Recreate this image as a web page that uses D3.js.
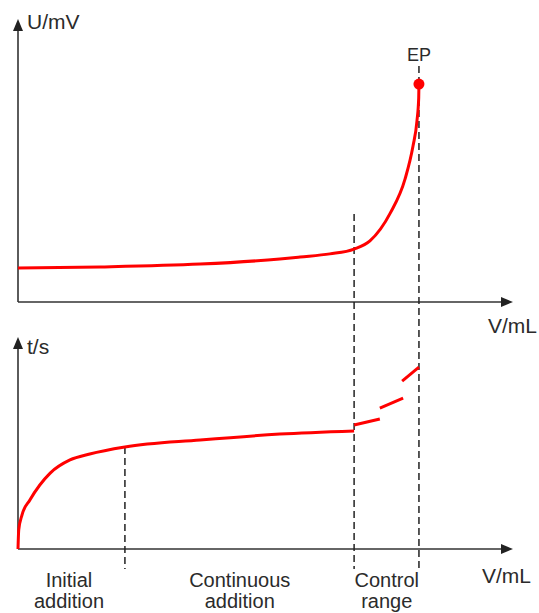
<!DOCTYPE html>
<html lang="en">
<head>
<meta charset="utf-8">
<script src="https://d3js.org/d3.v7.min.js"></script>
<style>
body { margin: 0; background: #fff; }
text { font-family: "Liberation Sans", Arial, sans-serif; fill: #2b2b2b; }
</style>
</head>
<body>
<svg width="539" height="613"></svg>
<script>
// --- data (V in arbitrary units 0..100, U and t in 0..100) ---
var potV = [0, 16.6, 36.8, 52.9, 57, 63, 67.9, 71.1, 75.2, 78.2, 79.8, 80.6, 80.95, 81];
var potU = [12.0, 12.4, 13.4, 15.2, 15.9, 17.0, 18.7, 21.6, 31.4, 43.5, 55.1, 64.0, 72.1, 77.0];

var timeV = [0, 0.15, 0.8, 2.4, 6.5, 10.5, 14.5, 21.6, 36.8, 52.9, 67.9];
var timeT = [0, 9.0, 16.0, 23.1, 35.8, 42.0, 44.8, 48.1, 51.4, 54.2, 55.7];

// control range increments (separate dashes)
var ctrlV0 = [67.9, 73.1, 77.6];
var ctrlT0 = [58.5, 66.5, 79.2];
var ctrlV1 = [73.1, 77.8, 81.0];
var ctrlT1 = [61.3, 71.2, 85.8];

var markV = [21.6, 67.9, 81.0];   // dashed region boundaries
var epV = 81.0, epU = 77.0;

var regionLabels = [["Initial", "addition"], ["Continuous", "addition"], ["Control", "range"]];
var regionCenters = [10.3, 44.8, 74.5];

var svg = d3.select("svg");
var red = "#ff0000", ink = "#333";

var x = d3.scaleLinear().domain([0, 100]).range([18, 513]);
var yU = d3.scaleLinear().domain([0, 100]).range([302, 19]);
var yT = d3.scaleLinear().domain([0, 100]).range([549, 337]);

// arrow axes
function arrowAxis(x0, y0, x1, y1) {
  svg.append("line").attr("x1", x0).attr("y1", y0).attr("x2", x1).attr("y2", y1)
    .attr("stroke", ink).attr("stroke-width", 1.6);
}
function head(px, py, dir) {
  var pts = dir === "up"
    ? [[px, py], [px - 5, py + 12], [px + 5, py + 12]]
    : [[px, py], [px - 12, py - 5], [px - 12, py + 5]];
  svg.append("polygon").attr("points", pts.join(" ")).attr("fill", "#222");
}

// top panel axes
arrowAxis(x(0), yU(0), x(0), yU(100) + 6);
arrowAxis(x(0), yU(0), 506, yU(0));
head(x(0), yU(100), "up");
head(513, yU(0), "right");
// bottom panel axes
arrowAxis(x(0), yT(0), x(0), yT(100) + 6);
arrowAxis(x(0), yT(0), 506, yT(0));
head(x(0), yT(100), "up");
head(513, yT(0), "right");

// dashed boundary lines
var dashTop = [447, 214, 66];
markV.forEach(function(v, i) {
  svg.append("line")
    .attr("x1", x(v)).attr("x2", x(v))
    .attr("y1", dashTop[i]).attr("y2", 569)
    .attr("stroke", "#222").attr("stroke-width", 1.5)
    .attr("stroke-dasharray", "7,4");
});

// potential curve
var potLine = d3.line().x(function(d) { return x(d[0]); }).y(function(d) { return yU(d[1]); })
  .curve(d3.curveMonotoneX);
svg.append("path").datum(d3.zip(potV, potU)).attr("d", potLine)
  .attr("fill", "none").attr("stroke", red).attr("stroke-width", 3);
svg.append("circle").attr("cx", x(epV)).attr("cy", yU(epU)).attr("r", 5.5).attr("fill", red);

// time curve
var timeLine = d3.line().x(function(d) { return x(d[0]); }).y(function(d) { return yT(d[1]); })
  .curve(d3.curveMonotoneX);
svg.append("path").datum(d3.zip(timeV, timeT)).attr("d", timeLine)
  .attr("fill", "none").attr("stroke", red).attr("stroke-width", 3);

ctrlV0.forEach(function(v, i) {
  svg.append("line")
    .attr("x1", x(v)).attr("y1", yT(ctrlT0[i]))
    .attr("x2", x(ctrlV1[i])).attr("y2", yT(ctrlT1[i]))
    .attr("stroke", red).attr("stroke-width", 3);
});

// labels
svg.append("text").attr("x", 27).attr("y", 29).attr("font-size", 21).text("U/mV");
svg.append("text").attr("x", 27).attr("y", 354).attr("font-size", 21).text("t/s");
svg.append("text").attr("x", 537).attr("y", 333).attr("font-size", 21)
  .attr("text-anchor", "end").text("V/mL");
svg.append("text").attr("x", 531).attr("y", 583).attr("font-size", 21)
  .attr("text-anchor", "end").text("V/mL");
svg.append("text").attr("x", x(epV)).attr("y", 61).attr("font-size", 18)
  .attr("text-anchor", "middle").text("EP");

regionLabels.forEach(function(lines, i) {
  lines.forEach(function(s, j) {
    svg.append("text").attr("text-anchor", "middle").attr("font-size", 20)
      .attr("x", x(regionCenters[i])).attr("y", 587 + j * 21).text(s);
  });
});
</script>
</body>
</html>
